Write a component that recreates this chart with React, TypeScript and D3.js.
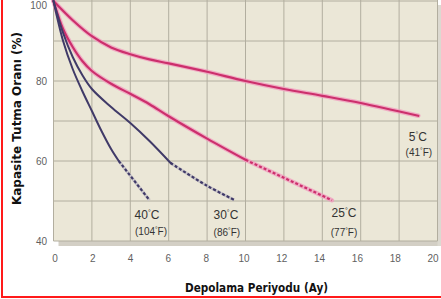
import React from "react";
import * as d3 from "d3";

const W = 441;
const H = 299;

// Axis ticks
const xTickValues = [0, 2, 4, 6, 8, 10, 12, 14, 16, 18, 20];
const yGridValues = [40, 50, 60, 70, 80, 90, 100];
const yLabelValues = [40, 60, 80, 100];

// 5°C
const t5SolidMonths = [0, 1, 2, 3, 4, 5, 6, 8, 10, 12, 14, 16, 19];
const t5SolidValues = [100, 95.2, 91.2, 88.4, 86.7, 85.4, 84.4, 82.3, 80, 78, 76.3, 74.5, 71.3];

// 25°C
const t25SolidMonths = [0, 0.5, 1, 1.5, 2, 3, 4, 5, 6, 8, 10];
const t25SolidValues = [100, 93, 88.5, 85, 82.5, 79.3, 76.8, 74.2, 71.2, 65.6, 60.3];
const t25DashMonths = [10, 14.5];
const t25DashValues = [60.3, 50.2];

// 30°C
const t30SolidMonths = [0, 0.5, 1, 1.5, 2, 3, 4, 5, 6.1];
const t30SolidValues = [100, 92, 86, 81.5, 78, 73.5, 69.5, 65, 59.5];
const t30DashMonths = [6.1, 8, 9.4];
const t30DashValues = [59.5, 53.8, 50.3];

// 40°C
const t40SolidMonths = [0, 0.5, 1, 1.5, 2, 2.5, 3, 3.4];
const t40SolidValues = [100, 90, 83, 77.5, 72.5, 67.5, 63, 60];
const t40DashMonths = [3.4, 5.0];
const t40DashValues = [60, 50.2];

// Curve labels
const labelC = ["40", "30", "25", "5"];
const labelF = ["104", "86", "77", "41"];
const labelCMonth = [4.87, 8.98, 15.13, 18.98];
const labelCValue = [45.5, 45.5, 46.0, 65.0];
const labelFMonth = [5.08, 9.03, 15.13, 19.03];
const labelFValue = [41.5, 41.25, 41.25, 61.25];

const PINK = "#cc2f6c";
const PINK_HALO = "#f29abd";
const NAVY = "#403a68";

function pts(xs: number[], vs: number[]): [number, number][] {
  return xs.map((x, i) => [x, vs[i]]);
}

export default function App() {
  const x = d3.scaleLinear().domain([0, 20]).range([53.5, 437.5]);
  const xLabel = d3.scaleLinear().domain([0, 20]).range([55, 433]);
  const y = d3.scaleLinear().domain([40, 100]).range([241, 1]);

  const line = d3
    .line<[number, number]>()
    .x((d) => x(d[0]))
    .y((d) => y(d[1]))
    .curve(d3.curveCatmullRom.alpha(0.5));

  const plotL = x(0);
  const plotR = x(20);
  const plotT = y(100);
  const plotB = y(40);

  const pinkSolid = [pts(t5SolidMonths, t5SolidValues), pts(t25SolidMonths, t25SolidValues)];
  const pinkDash = [pts(t25DashMonths, t25DashValues)];
  const navySolid = [pts(t30SolidMonths, t30SolidValues), pts(t40SolidMonths, t40SolidValues)];
  const navyDash = [pts(t30DashMonths, t30DashValues), pts(t40DashMonths, t40DashValues)];

  return (
    <svg
      width={W}
      height={H}
      viewBox={`0 0 ${W} ${H}`}
      style={{ position: "absolute", left: 0, top: 0, background: "#fff" }}
      fontFamily="'Liberation Sans', Arial, sans-serif"
    >
      <rect x={0} y={0} width={W} height={H} fill="#ffffff" />
      {/* shadow */}
      <rect x={plotL + 5} y={plotB} width={W - plotL - 5} height={5} fill="#d3cfc5" />
      <rect x={plotR} y={plotT + 4} width={W - plotR} height={plotB - plotT + 1} fill="#dcd9d0" />
      {/* plot background */}
      <rect x={plotL} y={plotT - 1} width={plotR - plotL} height={plotB - plotT + 1} fill="#ebe7d7" />
      {/* grid */}
      {xTickValues.map((t) => (
        <line key={"gx" + t} x1={x(t)} x2={x(t)} y1={plotT - 1} y2={plotB} stroke="#b2ae9f" strokeWidth={1} />
      ))}
      {yGridValues.map((t) => (
        <line key={"gy" + t} x1={plotL} x2={plotR} y1={y(t)} y2={y(t)} stroke="#b2ae9f" strokeWidth={1} />
      ))}

      {/* pink halos */}
      {[...pinkSolid, ...pinkDash].map((p, i) => (
        <path key={"ph" + i} d={line(p) || ""} fill="none" stroke={PINK_HALO} strokeWidth={4.5} strokeOpacity={0.75} strokeLinecap="round" />
      ))}
      {pinkSolid.map((p, i) => (
        <path key={"ps" + i} d={line(p) || ""} fill="none" stroke={PINK} strokeWidth={2.2} strokeLinecap="round" />
      ))}
      {pinkDash.map((p, i) => (
        <path key={"pd" + i} d={line(p) || ""} fill="none" stroke={PINK} strokeWidth={2.2} strokeDasharray="3,2" />
      ))}
      {/* navy */}
      {navyDash.map((p, i) => (
        <path key={"nh" + i} d={line(p) || ""} fill="none" stroke="#c9c5c8" strokeWidth={3} />
      ))}
      {navySolid.map((p, i) => (
        <path key={"ns" + i} d={line(p) || ""} fill="none" stroke={NAVY} strokeWidth={2} strokeLinecap="round" />
      ))}
      {navyDash.map((p, i) => (
        <path key={"nd" + i} d={line(p) || ""} fill="none" stroke={NAVY} strokeWidth={2.2} strokeDasharray="3,2" />
      ))}

      {/* curve labels */}
      {labelC.map((c, i) => (
        <text key={"lc" + i} x={x(labelCMonth[i])} y={y(labelCValue[i])} textAnchor="middle" fontSize={12} fill="#333">
          {c}
          <tspan fontSize={7} dy={-4.5}>°</tspan>
          <tspan dy={4.5}>C</tspan>
        </text>
      ))}
      {labelF.map((f, i) => (
        <text key={"lf" + i} x={x(labelFMonth[i])} y={y(labelFValue[i])} textAnchor="middle" fontSize={10} fill="#333">
          {"(" + f}
          <tspan fontSize={6.5} dy={-3.5}>°</tspan>
          <tspan dy={3.5}>F)</tspan>
        </text>
      ))}

      {/* y tick labels */}
      {yLabelValues.map((t) => (
        <text key={"yl" + t} x={47} y={Math.max(y(t) + 3.5, 8.5)} textAnchor="end" fontSize={10} fill="#5f5f5f">
          {t}
        </text>
      ))}
      {/* x tick labels */}
      {xTickValues.map((t) => (
        <text key={"xl" + t} x={xLabel(t)} y={262} textAnchor="middle" fontSize={10} fill="#5f5f5f">
          {t}
        </text>
      ))}

      {/* axis titles */}
      <text
        transform={`translate(21,118.5) rotate(-90)`}
        textAnchor="middle"
        fontSize={12}
        fontWeight="bold"
        fontFamily="'DejaVu Sans', sans-serif"
        fill="#111"
        textLength={173}
        lengthAdjust="spacingAndGlyphs"
      >
        Kapasite Tutma Oranı (%)
      </text>
      <text
        x={256.5}
        y={292}
        textAnchor="middle"
        fontSize={12.5}
        fontWeight="bold"
        fontFamily="'DejaVu Sans Condensed', 'DejaVu Sans', sans-serif"
        fill="#111"
        textLength={143}
        lengthAdjust="spacingAndGlyphs"
      >
        Depolama Periyodu (Ay)
      </text>

      {/* red frame (left & bottom) */}
      <rect x={1} y={0} width={2} height={298} fill="#ff1a1a" />
      <rect x={1} y={296} width={W - 1} height={2} fill="#ff1a1a" />
    </svg>
  );
}
